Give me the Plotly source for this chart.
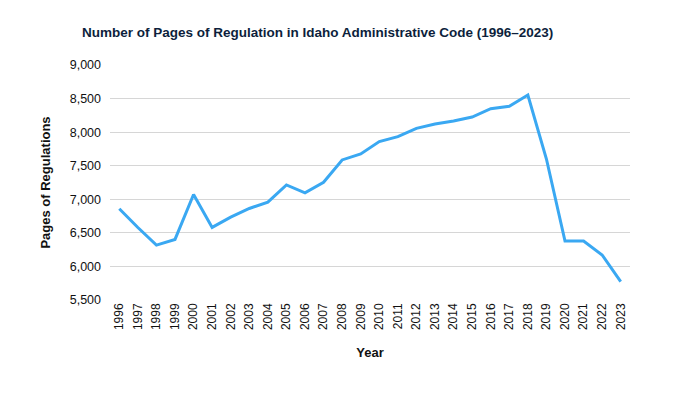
import plotly.graph_objects as go

years = [str(y) for y in range(1996, 2024)]
pages = [6860, 6580, 6318, 6402, 7071, 6581, 6734, 6863, 6957, 7214, 7095, 7254,
         7586, 7675, 7860, 7933, 8057, 8121, 8166, 8225, 8350, 8384, 8553, 7600,
         6378, 6378, 6170, 5773]
y_ticks = [5500, 6000, 6500, 7000, 7500, 8000, 8500, 9000]

fig = go.Figure()
fig.add_trace(go.Scatter(x=years, y=pages, mode="lines",
                         line=dict(color="#3aa8f2", width=3), hoverinfo="x+y"))

fig.update_layout(
    width=680, height=397,
    margin=dict(l=102, r=58, t=57, b=105),
    paper_bgcolor="white", plot_bgcolor="white",
    showlegend=False,
    title=dict(text="<b>Number of Pages of Regulation in Idaho Administrative Code (1996–2023)</b>",
               x=74/680, xanchor="left", y=1-24/397, yanchor="middle",
               font=dict(family="Liberation Sans, Arial, sans-serif", size=13.5, color="#0d1f3c")),
    font=dict(family="Liberation Sans, Arial, sans-serif", color="#111111"),
)
fig.update_xaxes(type="category", range=[-0.5, len(years) - 0.5], tickangle=-90,
                 showgrid=False, showline=False, ticks="",
                 tickfont=dict(size=12, color="#111111"),
                 title=dict(text="<b>Year</b>", font=dict(size=13, color="#111111"), standoff=18))
fig.update_yaxes(range=[5500, 9000], tickvals=y_ticks, tickformat=",",
                 showgrid=True, gridcolor="#d6d6d6", gridwidth=1, zeroline=False,
                 showline=False, ticks="", ticklabelstandoff=8,
                 tickfont=dict(size=12.5, color="#111111"),
                 title=dict(text="<b>Pages of Regulations</b>", font=dict(size=13, color="#111111"), standoff=16))

fig.write_html("out.html")
